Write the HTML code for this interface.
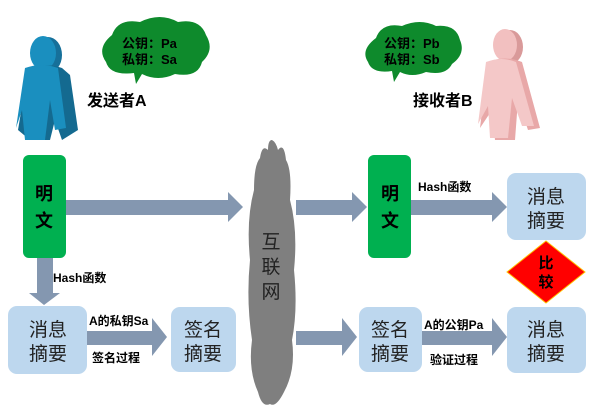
<!DOCTYPE html>
<html><head><meta charset="utf-8"><style>
body{margin:0;background:#fff;}
svg text{font-family:"Liberation Sans","Noto Sans CJK SC",sans-serif;}
</style></head><body>
<svg width="602" height="415" viewBox="0 0 602 415" xmlns="http://www.w3.org/2000/svg">
<!-- left person -->
<g fill="#1a8fbf">
<ellipse cx="48" cy="55" rx="14" ry="18" fill="#16709a"/>
<ellipse cx="43" cy="53" rx="13" ry="17"/>
<path d="M28 70 Q45 62 62 68 L70 75 L78 130 L62 140 L55 120 L50 140 L30 140 L18 130 Z" fill="#146a90"/>
<path d="M25 68 Q42 62 58 68 L66 128 L55 130 L50 100 L45 140 L25 140 L22 110 L16 128 Z"/>
</g>
<!-- right person -->
<g>
<ellipse cx="510" cy="47" rx="13" ry="17" fill="#d99a9a"/>
<ellipse cx="505" cy="45" rx="12" ry="16" fill="#f2c0c0"/>
<path d="M488 62 Q505 55 522 62 L540 128 L528 130 L518 100 L515 140 L495 140 L492 110 L480 128 Z" fill="#e8a8a8"/>
<path d="M486 62 Q502 56 516 62 L534 126 L522 126 L512 98 L508 138 L490 138 L488 106 L478 124 Z" fill="#f4c8c8"/>
</g>
<!-- green clouds -->
<g fill="#0e8a2c">
<path d="M112 35 Q118 18 140 22 Q160 12 178 22 Q200 18 206 35 Q215 50 202 62 Q198 78 175 74 Q158 82 142 74 L136 84 L134 73 Q110 76 106 62 Q96 48 112 35 Z"/>
<path d="M376 38 Q382 22 402 26 Q420 18 436 26 Q456 24 460 40 Q466 54 452 64 Q446 76 426 72 Q412 78 400 72 L394 82 L392 71 Q372 74 368 62 Q360 50 376 38 Z"/>
</g>
<g font-weight="bold" font-size="13" fill="#000">
<text x="122" y="48">公钥：Pa</text>
<text x="122" y="64">私钥：Sa</text>
<text x="384" y="48">公钥：Pb</text>
<text x="384" y="64">私钥：Sb</text>
</g>
<g font-weight="bold" font-size="16" fill="#000">
<text x="87" y="106">发送者A</text>
<text x="413" y="106">接收者B</text>
</g>
<!-- arrows -->
<g fill="#8497b0">
<path d="M66 200 H228 V192 L243 207 L228 222 V215 H66 Z"/>
<path d="M296 200 H352 V192 L367 207 L352 222 V215 H296 Z"/>
<path d="M411 200 H492 V192 L507 207 L492 222 V215 H411 Z"/>
<path d="M37 258 H53 V293 H60 L44 305 L29 293 H37 Z"/>
<path d="M87 331 H152 V318 L167 337 L152 356 V345 H87 Z"/>
<path d="M296 331 H342 V318 L357 337 L342 356 V345 H296 Z"/>
<path d="M422 331 H492 V318 L507 337 L492 356 V345 H422 Z"/>
</g>
<!-- green boxes -->
<rect x="23" y="155" width="43" height="103" rx="6" fill="#00b050"/>
<rect x="368" y="155" width="43" height="103" rx="6" fill="#00b050"/>
<g font-weight="bold" font-size="18" fill="#000" text-anchor="middle">
<text x="44" y="200">明</text><text x="44" y="227">文</text>
<text x="390" y="200">明</text><text x="390" y="227">文</text>
</g>
<!-- blue boxes -->
<g fill="#bdd7ee">
<rect x="8" y="306" width="79" height="68" rx="9"/>
<rect x="171" y="307" width="65" height="65" rx="9"/>
<rect x="359" y="307" width="63" height="65" rx="9"/>
<rect x="507" y="173" width="79" height="67" rx="9"/>
<rect x="507" y="307" width="79" height="66" rx="9"/>
</g>
<g font-size="19" fill="#222" text-anchor="middle">
<text x="48" y="336">消息</text><text x="48" y="360">摘要</text>
<text x="203" y="336">签名</text><text x="203" y="360">摘要</text>
<text x="390" y="336">签名</text><text x="390" y="360">摘要</text>
<text x="546" y="203">消息</text><text x="546" y="227">摘要</text>
<text x="546" y="336">消息</text><text x="546" y="360">摘要</text>
</g>
<!-- diamond -->
<path d="M546 241 L585 272 L546 303 L507 272 Z" fill="#ff0000" stroke="#ffc000" stroke-width="1"/>
<g font-weight="bold" font-size="15" fill="#000" text-anchor="middle">
<text x="546" y="268">比</text><text x="546" y="287">较</text>
</g>
<!-- internet cloud -->
<path d="M272 140 Q276 142 278 150 Q284 142 286 160 Q292 170 290 200 Q298 230 294 270 Q298 310 292 340 Q296 370 284 392 Q276 408 270 404 Q262 408 258 392 Q248 370 252 340 Q246 300 250 260 Q246 220 254 190 Q254 165 260 158 Q262 144 268 150 Q268 140 272 140 Z" fill="#7f7f7f"/>
<g font-size="19" fill="#222" text-anchor="middle">
<text x="271" y="248">互</text><text x="271" y="273">联</text><text x="271" y="298">网</text>
</g>
<g font-weight="bold" font-size="12" fill="#000">
<text x="53" y="282">Hash函数</text>
<text x="418" y="191">Hash函数</text>
<text x="89" y="325">A的私钥Sa</text>
<text x="92" y="362">签名过程</text>
<text x="424" y="329">A的公钥Pa</text>
<text x="430" y="364">验证过程</text>
</g>
</svg>
</body></html>
